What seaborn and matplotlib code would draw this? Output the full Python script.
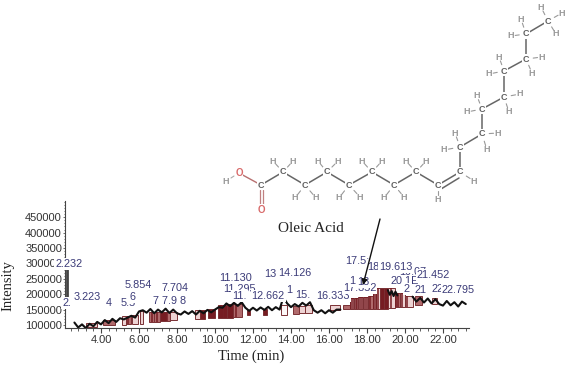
import matplotlib
matplotlib.use('Agg')
import matplotlib.pyplot as plt
import pandas as pd
import seaborn as sns
from matplotlib.ticker import MultipleLocator, FormatStrFormatter

sns.set_theme(style='white')
plt.rcParams['font.family'] = ['Liberation Sans', 'DejaVu Sans']

# chromatogram trace, split where the labels hide it
spike_x = [2.23, 2.23]
spike_y = [190000, 300000]
line_x = [2.6, 2.8, 3.0, 3.2, 3.4, 3.6, 3.8, 4.0, 4.2, 4.4, 4.6, 4.8, 5.0, 5.2, 5.4, 5.6, 5.8, 6.0, 6.2, 6.4,
          6.6, 6.8, 7.0, 7.2, 7.4, 7.6, 7.8, 8.0, 8.2, 8.4, 8.6, 8.8, 9.0, 9.2, 9.4, 9.6, 9.8, 10.0, 10.2, 10.4,
          10.6, 10.8, 11.0, 11.2, 11.4, 11.6, 11.8, 12.0, 12.2, 12.4, 12.6, 12.8, 13.0, 13.2, 13.4, 13.6, 13.8,
          14.0, 14.2, 14.4, 14.6, 14.8, 15.0, 15.2, 15.4, 15.6, 15.8, 16.0, 16.2, 16.4, 16.6]
line_y = [108000, 92000, 102000, 90000, 104000, 96000, 110000, 102000, 116000, 106000, 120000, 110000, 122000,
          118000, 124000, 130000, 124000, 144000, 148000, 140000, 152000, 138000, 150000, 141000, 153000, 139000,
          150000, 138000, 134000, 144000, 136000, 145000, 134000, 146000, 138000, 149000, 141000, 150000, 158000,
          156000, 170000, 161000, 172000, 162000, 174000, 156000, 146000, 156000, 147000, 157000, 149000, 159000,
          148000, 158000, 150000, 190000, 170000, 158000, 168000, 160000, 172000, 163000, 174000, 148000, 140000,
          148000, 138000, 148000, 140000, 150000, 150000]
line2_x = [19.1, 19.2, 19.3, 19.4, 19.5, 19.6]
line2_y = [213000, 198000, 210000, 194000, 208000, 196000]
line3_x = [20.4, 20.6, 20.8, 21.0, 21.2, 21.4, 21.6, 21.8, 22.0, 22.2, 22.4, 22.6, 22.8, 23.0, 23.2]
line3_y = [192000, 176000, 188000, 173000, 186000, 170000, 184000, 168000, 163000, 178000, 164000, 174000,
           160000, 176000, 168000]

# integrated peak blocks
bar_start = [3.2, 4.1, 5.1, 5.3, 5.65, 6.05, 6.55, 6.8, 7.1, 7.4, 7.65, 8.95, 9.2, 9.65, 10.15, 10.4, 10.65, 10.95,
             11.7, 12.55, 13.5, 14.1, 14.4, 14.75, 16.05, 16.75, 17.1, 17.3, 17.55, 17.8, 18.05, 18.3, 18.5, 18.7,
             18.9, 19.1, 19.5, 19.75, 20.0, 20.55, 21.4]
bar_end = [3.8, 4.75, 5.3, 5.6, 5.95, 6.2, 6.8, 7.1, 7.4, 7.65, 8.0, 9.2, 9.5, 10.0, 10.4, 10.65, 10.95, 11.4,
           11.85, 12.75, 13.8, 14.4, 14.75, 15.1, 16.6, 17.1, 17.3, 17.55, 17.8, 18.05, 18.3, 18.5, 18.7, 18.9,
           19.1, 19.5, 19.75, 20.0, 20.4, 20.9, 21.7]
bar_top = [106000, 116000, 129000, 129000, 132000, 145000, 142000, 142000, 142000, 142000, 142000, 149000, 149000,
           152000, 165000, 165000, 168000, 168000, 149000, 152000, 165000, 162000, 162000, 165000, 165000, 165000,
           188000, 188000, 191000, 191000, 194000, 220000, 220000, 220000, 220000, 220000, 204000, 204000, 194000,
           194000, 188000]
bar_base = [95000, 100000, 100000, 103000, 103000, 103000, 110000, 110000, 113000, 113000, 116000, 119000, 119000,
            123000, 123000, 123000, 123000, 126000, 132000, 132000, 132000, 136000, 139000, 139000, 149000, 152000,
            152000, 152000, 152000, 152000, 152000, 152000, 152000, 152000, 152000, 155000, 158000, 158000, 158000,
            165000, 168000]
bar_shade = ['light', 'mid', 'light', 'mid', 'light', 'light', 'mid', 'mid', 'dark', 'mid', 'light', 'light', 'dark',
             'dark', 'dark', 'dark', 'dark', 'mid', 'dark', 'dark', 'white', 'mid', 'light', 'light', 'light', 'mid',
             'light', 'light', 'light', 'light', 'mid', 'light', 'light', 'dark', 'dark', 'light', 'mid', 'light',
             'light', 'mid', 'light']
shades = {'white': '#fdf8f8', 'light': '#edd3d3', 'mid': '#b06a6c', 'dark': '#761c22'}

# thin dark strokes inside the blocks
stripe_x = [5.4, 6.7, 6.95, 7.2, 7.35, 7.5, 10.3, 10.5, 10.8, 11.1, 17.15, 17.25, 17.4, 17.5, 17.65, 17.75, 17.9, 18.0,
            18.15, 18.35, 18.45, 18.6, 19.25, 19.55, 19.65, 19.85, 20.1]
stripe_top = [129000, 142000, 142000, 142000, 142000, 142000, 165000, 165000, 168000, 168000, 188000, 188000, 188000,
              188000, 191000, 191000, 191000, 191000, 194000, 220000, 220000, 220000, 220000, 204000, 204000, 204000,
              194000]
stripe_base = [103000, 110000, 110000, 113000, 113000, 113000, 123000, 123000, 123000, 126000, 152000, 152000, 152000,
               152000, 152000, 152000, 152000, 152000, 152000, 152000, 152000, 152000, 155000, 158000, 158000, 158000,
               158000]

# retention time labels, later ones cover earlier ones
peak_text = ['2.', '4', '5.5', '3.223', '5.854', '6', '7.704', '7 7.9 8', '11.130', '11.295', '11.', '12.662', '13',
             '14.126', '1', '15.', '16.333', '17.5:', '17.352', '1', '18', '18.', '19.07', '19.613', '20.1E', '2',
             '21', '22', '21.452', '22.795', '2.232']
peak_x = [2.2, 4.4, 5.45, 3.26, 5.95, 5.68, 7.89, 7.63, 11.1, 11.3, 11.3, 12.8, 12.9, 14.2, 13.9, 14.6, 16.2, 17.5,
          17.6, 17.2, 17.8, 18.4, 20.4, 19.5, 20.0, 20.1, 20.8, 21.7, 21.5, 22.8, 2.32]
peak_y = [172000, 172000, 170000, 191000, 230000, 191000, 220000, 178000, 253000, 217000, 194000, 194000, 266000,
          269000, 214000, 197000, 194000, 308000, 220000, 243000, 240000, 288000, 272000, 288000, 243000, 217000,
          214000, 217000, 262000, 214000, 298000]

y_ticks = [100000, 150000, 200000, 250000, 300000, 350000, 400000, 450000]

# molecule drawn in image pixels
carbon_x = [261, 283, 305, 327, 349, 372, 394, 416, 438, 460, 460, 482, 482, 504, 504, 526, 526, 548]
carbon_y = [185, 172, 185, 172, 185, 172, 185, 172, 185, 172, 147, 134, 109, 97, 71, 59, 34, 21]
hydrogen_owner = [1, 1, 2, 2, 3, 3, 4, 4, 5, 5, 6, 6, 7, 7, 8, 9, 10, 10, 11, 11, 12, 12, 13, 13, 14, 14, 15, 15,
                  16, 16, 17, 17, 17]
hydrogen_x = [273, 293, 295, 316, 318, 338, 339, 360, 362, 382, 384, 404, 406, 426, 438, 474, 444, 455, 498, 487,
              467, 477, 520, 509, 489, 499, 542, 532, 511, 521, 541, 562, 556]
hydrogen_y = [161, 161, 198, 198, 161, 161, 198, 197, 161, 161, 198, 197, 161, 161, 199, 181, 150, 133, 133, 150,
              112, 96, 94, 112, 74, 57, 57, 73, 36, 19, 7, 13, 34]

fig = plt.figure(figsize=(5.74, 3.70), dpi=100, facecolor='white')
ax = fig.add_axes([65 / 574, 1 - 328 / 370, 404 / 574, 127 / 370])

for start, end, top, base, shade in zip(bar_start, bar_end, bar_top, bar_base, bar_shade):
    ax.bar(start, top - base, width=end - start, bottom=base, align='edge', color=shades[shade],
           edgecolor='#7a3034', linewidth=0.7, zorder=1)
ax.vlines(stripe_x, stripe_base, stripe_top, color='#761c22', linewidth=1.1, zorder=1.5)

trace = pd.concat([
    pd.DataFrame({'time': line_x, 'intensity': line_y, 'segment': 1}),
    pd.DataFrame({'time': line2_x, 'intensity': line2_y, 'segment': 2}),
    pd.DataFrame({'time': line3_x, 'intensity': line3_y, 'segment': 3}),
])
sns.lineplot(data=trace, x='time', y='intensity', units='segment', estimator=None, sort=False,
             color='#111111', linewidth=1.5, ax=ax, zorder=2)
sns.lineplot(x=spike_x, y=spike_y, estimator=None, sort=False, color='#444444', linewidth=2, ax=ax, zorder=2)

ax.set_xlim(2.105, 23.37)
ax.set_ylim(90260, 502600)
ax.xaxis.set_major_locator(MultipleLocator(2))
ax.xaxis.set_minor_locator(MultipleLocator(0.4))
ax.xaxis.set_major_formatter(FormatStrFormatter('%.2f'))
ax.set_yticks(y_ticks)
ax.yaxis.set_major_formatter(FormatStrFormatter('%d'))
ax.yaxis.set_minor_locator(MultipleLocator(10000))
ax.tick_params(axis='x', which='major', length=3.5, width=0.8, color='#444444', labelsize=8, labelcolor='#333333',
               pad=1.5, bottom=True)
ax.tick_params(axis='x', which='minor', length=2, width=0.6, color='#444444', bottom=True)
ax.tick_params(axis='y', which='major', length=1.2, width=0.6, color='#555555', labelsize=8, labelcolor='#333333',
               pad=1, left=True)
ax.tick_params(axis='y', which='minor', length=0.8, width=0.6, color='#555555', left=True)
for label in ax.get_xticklabels() + ax.get_yticklabels():
    label.set_fontweight('medium')
sns.despine(ax=ax)
ax.patch.set_alpha(0)
for side in ['left', 'bottom']:
    ax.spines[side].set_color('#444444')
    ax.spines[side].set_linewidth(0.8)
ax.set_xlabel('')
ax.set_ylabel('')

for text, x, y in zip(peak_text, peak_x, peak_y):
    ax.text(x, y, text, ha='center', va='center', fontsize=7.8, color='#3b3b78', zorder=5,
            bbox=dict(facecolor='white', edgecolor='none', pad=0.8))

# overlay in pixels for the structure and the captions
over = fig.add_axes([0, 0, 1, 1])
over.set_xlim(0, 574)
over.set_ylim(370, 0)
over.axis('off')
over.patch.set_alpha(0)

# oxygens and hydroxyl hydrogen
over.plot([carbon_x[0], 239], [carbon_y[0], 173], color='#b87070', lw=1, zorder=1)
over.plot([259.5, 259.5], [190, 204], color='#c08080', lw=0.9, zorder=1)
over.plot([262.5, 262.5], [190, 204], color='#c08080', lw=0.9, zorder=1)
over.plot([231, 234], [178, 176], color='#aaaaaa', lw=0.8, zorder=1)

# backbone
over.plot(carbon_x, carbon_y, color='#666666', lw=1.1, zorder=1)
over.plot([441, 459], [189, 178], color='#666666', lw=1.1, zorder=1)

for owner, hx, hy in zip(hydrogen_owner, hydrogen_x, hydrogen_y):
    cx, cy = carbon_x[owner], carbon_y[owner]
    over.plot([cx + 0.45 * (hx - cx), cx + 0.72 * (hx - cx)], [cy + 0.45 * (hy - cy), cy + 0.72 * (hy - cy)],
              color='#999999', lw=0.8, zorder=1)
    over.text(hx, hy, 'H', ha='center', va='center', fontsize=6.5, color='#999999', fontweight='bold')

for cx, cy in zip(carbon_x, carbon_y):
    over.text(cx, cy, 'C', ha='center', va='center', fontsize=6.5, color='#606060', fontweight='bold', zorder=3,
              bbox=dict(facecolor='white', edgecolor='none', pad=0.4))

over.text(239, 173, 'O', ha='center', va='center', fontsize=7, color='#d86a6a', fontweight='bold', zorder=3,
          bbox=dict(facecolor='white', edgecolor='none', pad=0.4))
over.text(261, 210, 'O', ha='center', va='center', fontsize=7, color='#d86a6a', fontweight='bold', zorder=3,
          bbox=dict(facecolor='white', edgecolor='none', pad=0.4))
over.text(226, 181, 'H', ha='center', va='center', fontsize=6.5, color='#999999', fontweight='bold')

over.text(311, 229, 'Oleic Acid', ha='center', va='center', fontsize=11, family='Liberation Serif', color='#222222')
over.text(251, 356, 'Time (min)', ha='center', va='center', fontsize=10.5, family='Liberation Serif', color='#222222')
over.text(8, 286, 'Intensity', ha='center', va='center', rotation=90, fontsize=10.5, family='Liberation Serif',
          color='#222222')
over.annotate('', xy=(363, 285), xytext=(380, 219),
              arrowprops=dict(arrowstyle='-|>', color='#111111', lw=1, mutation_scale=8, shrinkA=0, shrinkB=0))

fig.savefig('out.png', dpi=100, facecolor='white')
